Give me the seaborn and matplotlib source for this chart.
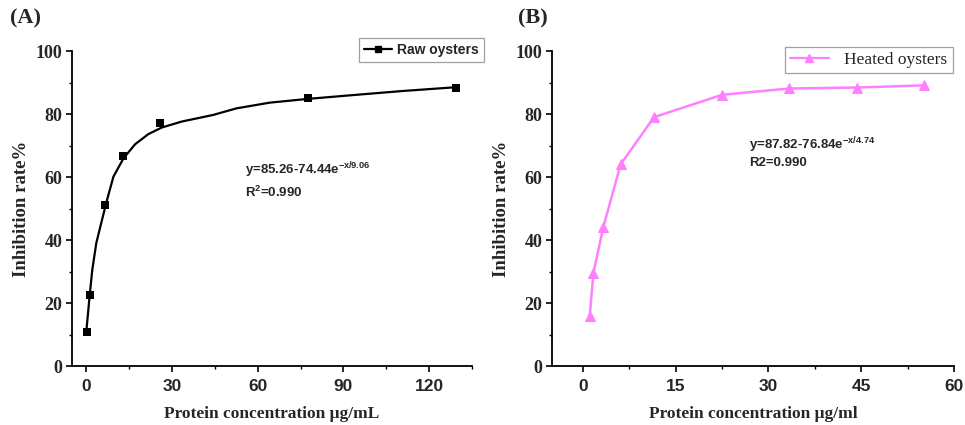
import numpy as np
import pandas as pd
import matplotlib
matplotlib.use("Agg")
import matplotlib.pyplot as plt
from matplotlib.lines import Line2D
from matplotlib.ticker import MultipleLocator
import seaborn as sns

# data
raw_conc = [0.2, 1.2, 6.4, 13.0, 25.9, 77.7, 129.5]
raw_inhib = [10.7, 22.4, 51.0, 66.6, 77.1, 85.0, 88.4]

# fitted curve
fit_conc = [0.0, 1.2, 2.1, 3.5, 5.4, 7.2, 9.5, 13.0, 17.1, 21.7, 26.4, 33.4, 44.4,
            52.6, 64.2, 77.6, 93.3, 110.7, 129.3]
fit_inhib = [10.8, 22.5, 30.5, 39.0, 46.0, 52.5, 60.1, 65.9, 70.4, 73.6, 75.7, 77.6, 79.7,
             81.8, 83.6, 84.8, 86.0, 87.3, 88.5]

heat_conc = [1.1, 1.7, 3.3, 6.1, 11.5, 22.5, 33.4, 44.3, 55.2]
heat_inhib = [15.8, 29.5, 44.1, 64.0, 79.0, 86.1, 88.1, 88.4, 89.1]

pink = "#ff80ff"

sns.set_style("ticks")
plt.rcParams["font.family"] = ["Liberation Serif", "DejaVu Serif"]
plt.rcParams["mathtext.fontset"] = "custom"
plt.rcParams["mathtext.rm"] = "Liberation Sans:bold"
plt.rcParams["mathtext.it"] = "Liberation Sans:bold"
plt.rcParams["mathtext.bf"] = "Liberation Sans:bold"

fig = plt.figure(figsize=(9.65, 4.25), dpi=100)
axA = fig.add_axes([0.0746, 0.1388, 0.4145, 0.7412])
axB = fig.add_axes([0.572, 0.1388, 0.4166, 0.7412])

sans = ["Liberation Sans", "DejaVu Sans"]
serif = ["Liberation Serif", "DejaVu Serif"]


def style_axis(ax, xmin, xmax, xticks, xminor, xlabel):
    ax.set_xlim(xmin, xmax)
    ax.set_ylim(0, 100)
    ax.set_xticks(xticks)
    ax.xaxis.set_minor_locator(MultipleLocator(xminor))
    ax.yaxis.set_major_locator(MultipleLocator(20))
    ax.yaxis.set_minor_locator(MultipleLocator(10))
    sns.despine(ax=ax)
    for s in ["left", "bottom"]:
        ax.spines[s].set_linewidth(1.3)
        ax.spines[s].set_color("black")
    ax.tick_params(which="major", direction="out", length=4, width=1.2, color="black")
    ax.tick_params(which="minor", direction="out", length=2.5, width=1.0, color="black")
    ax.tick_params(axis="y", pad=3)
    ax.tick_params(axis="x", pad=5)
    for lab in ax.get_yticklabels():
        lab.set_family(serif)
        lab.set_fontweight("bold")
        lab.set_fontsize(13)
    for lab in ax.get_xticklabels():
        lab.set_family(sans)
        lab.set_fontweight("bold")
        lab.set_fontsize(12.5)
    ax.set_xlabel(xlabel, family=serif, fontweight="bold", fontsize=12.5, labelpad=9)
    ax.set_ylabel("Inhibition rate%", family=serif, fontweight="bold", fontsize=13.5,
                  labelpad=4)


# Panel A
sns.lineplot(x=fit_conc, y=fit_inhib, ax=axA, color="black", linewidth=1.6)
sns.scatterplot(x=raw_conc, y=raw_inhib, ax=axA, color="black", marker="s", s=38,
                edgecolor="black", linewidth=0, zorder=3)
style_axis(axA, -5, 135, [0, 30, 60, 90, 120], 15, "Protein concentration μg/mL")
axA.text(55.5, 62.2, r"y=85.26-74.44e$^{-x/9.06}$", family=sans, fontweight="bold",
         fontsize=9.5, va="center")
axA.text(55.5, 55.0, r"R$^{2}$=0.990", family=sans, fontweight="bold",
         fontsize=9.5, va="center")
hA = Line2D([], [], color="black", marker="s", markersize=5, linewidth=1.6)
legA = axA.legend([hA], ["Raw oysters"], loc="upper right", bbox_to_anchor=(1.03, 1.04),
                  borderaxespad=0, frameon=True, fancybox=False, handlelength=2.0,
                  handletextpad=0.4, borderpad=0.35,
                  prop={"family": sans, "weight": "bold", "size": 10})
legA.get_frame().set_edgecolor("#888888")
legA.get_frame().set_linewidth(0.9)
axA.text(-0.155, 1.07, "(A)", transform=axA.transAxes, family=serif, fontweight="bold",
         fontsize=16, va="bottom")

# Panel B
sns.lineplot(x=heat_conc, y=heat_inhib, ax=axB, color=pink, linewidth=1.8, marker="^",
             markersize=7, markeredgecolor=pink, sort=False)
style_axis(axB, -5, 60, [0, 15, 30, 45, 60], 7.5, "Protein concentration μg/ml")
axB.text(26.8, 70.2, r"y=87.82-76.84e$^{-x/4.74}$", family=sans, fontweight="bold",
         fontsize=9.5, va="center")
axB.text(26.8, 64.4, "R2=0.990", family=sans, fontweight="bold",
         fontsize=9.5, va="center")
hB = Line2D([], [], color=pink, marker="^", markersize=6, linewidth=1.6)
legB = axB.legend([hB], ["Heated oysters"], loc="upper left", bbox_to_anchor=(0.58, 1.013),
                  borderaxespad=0, frameon=True, fancybox=False, handlelength=2.2,
                  handletextpad=0.9, borderpad=0.3,
                  prop={"family": serif, "size": 12.5})
legB.get_frame().set_edgecolor("#888888")
legB.get_frame().set_linewidth(0.9)
axB.text(-0.085, 1.07, "(B)", transform=axB.transAxes, family=serif, fontweight="bold",
         fontsize=16, va="bottom")

fig.savefig("out.png", dpi=100)
